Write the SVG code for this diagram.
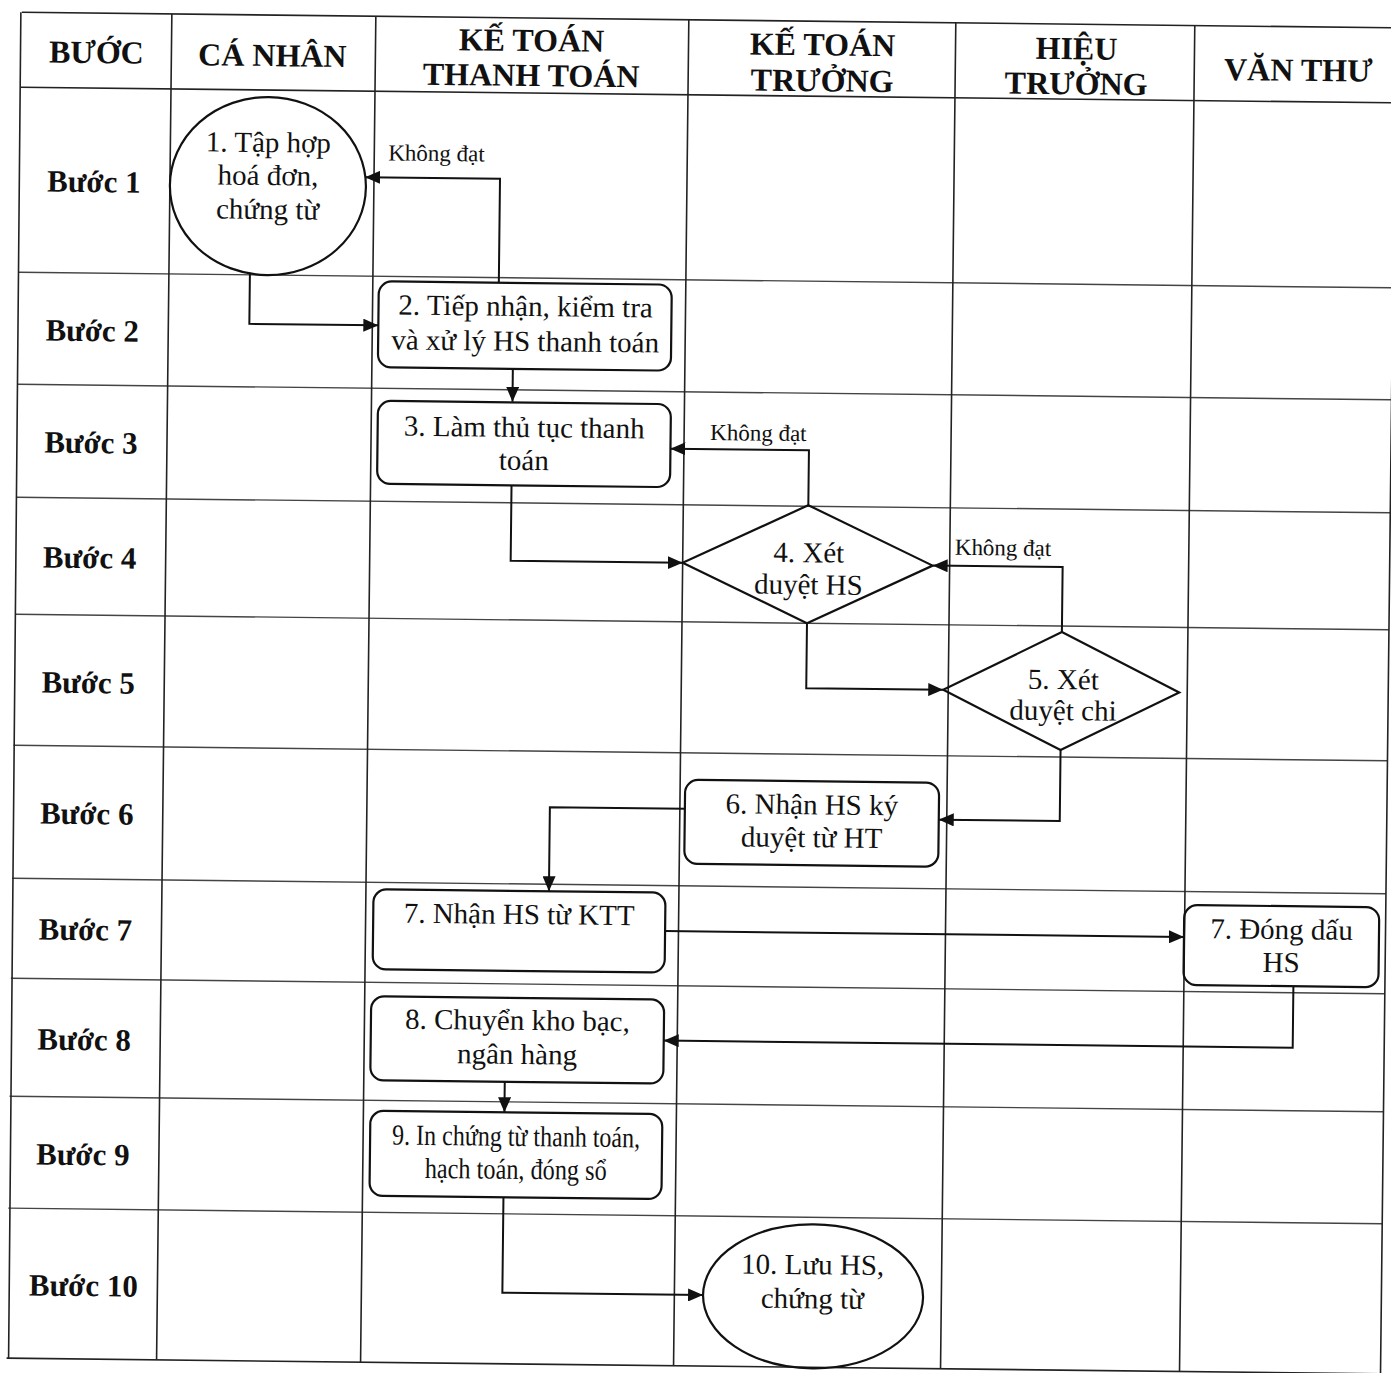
<svg xmlns="http://www.w3.org/2000/svg" width="1391" height="1373" viewBox="0 0 1391 1373">
<style>
.grid{stroke:#222;stroke-width:1.6;fill:none}
.hl{stroke:#444;stroke-width:1.4;fill:none}
.shape{fill:none;stroke:#111;stroke-width:2.2}
.conn{fill:none;stroke:#111;stroke-width:2}
.hd{font-family:"Liberation Serif","DejaVu Serif",serif;font-weight:bold;font-size:32px;fill:#111;text-anchor:middle}
.rl{font-family:"Liberation Serif","DejaVu Serif",serif;font-weight:bold;font-size:31px;fill:#111;text-anchor:middle}
.nt{font-family:"Liberation Serif","DejaVu Serif",serif;font-size:29px;fill:#111;text-anchor:middle}
.lb{font-family:"Liberation Serif","DejaVu Serif",serif;font-size:23px;fill:#111}
</style>
<defs>
<marker id="arr" markerUnits="userSpaceOnUse" markerWidth="15" markerHeight="13" refX="15" refY="6.5" orient="auto">
<path d="M0,0 L15,6.5 L0,13 z" fill="#111"/>
</marker>
</defs>
<rect x="0" y="0" width="1391" height="1373" fill="#fff"/>
<g transform="rotate(0.65)">
<g id="table">
<path class="grid" d="M22,12 H1396 M22,87 H1396 M22,1358 H1396"/>
<path class="hl" d="M22,272 H1396 M22,384 H1396 M22,497 H1396 M22,614 H1396 M22,745 H1396 M22,878 H1396 M22,978 H1396 M22,1096 H1396 M22,1208 H1396"/>
<path class="grid" d="M21,12 L24,1358 M172,12 V1358 M376,12 V1358 M689,12 V1358 M956,12 V1358 M1195,12 V1358 M1396,12 V1358"/>
</g>
<g id="headers">
<text class="hd" x="97" y="62">BƯỚC</text>
<text class="hd" x="273" y="63">CÁ NHÂN</text>
<text class="hd" x="532" y="45">KẾ TOÁN</text>
<text class="hd" x="532" y="80">THANH TOÁN</text>
<text class="hd" x="823" y="46">KẾ TOÁN</text>
<text class="hd" x="823" y="82">TRƯỞNG</text>
<text class="hd" x="1077" y="47">HIỆU</text>
<text class="hd" x="1077" y="82">TRƯỞNG</text>
<text class="hd" x="1299" y="66">VĂN THƯ</text>
</g>
<g id="rows">
<text class="rl" x="96" y="191">Bước 1</text>
<text class="rl" x="96" y="340">Bước 2</text>
<text class="rl" x="96" y="452">Bước 3</text>
<text class="rl" x="96" y="567">Bước 4</text>
<text class="rl" x="96" y="692">Bước 5</text>
<text class="rl" x="96" y="823">Bước 6</text>
<text class="rl" x="96" y="939">Bước 7</text>
<text class="rl" x="96" y="1049">Bước 8</text>
<text class="rl" x="96" y="1164">Bước 9</text>
<text class="rl" x="98" y="1295">Bước 10</text>
</g>
<g id="connectors">
<path class="conn" marker-end="url(#arr)" d="M502,277 V173 H367"/>
<path class="conn" marker-end="url(#arr)" d="M253,270 V321 H382"/>
<path class="conn" marker-end="url(#arr)" d="M517,363 V396"/>
<path class="conn" marker-end="url(#arr)" d="M814,496 V441 H675.5"/>
<path class="conn" marker-end="url(#arr)" d="M517,480 V555 H689"/>
<path class="conn" marker-end="url(#arr)" d="M1069,620 V555 H939"/>
<path class="conn" marker-end="url(#arr)" d="M814,614 V679 H951"/>
<path class="conn" marker-end="url(#arr)" d="M1069,738 V809 H948"/>
<path class="conn" marker-end="url(#arr)" d="M694,801 H559 V885"/>
<path class="conn" marker-end="url(#arr)" d="M675.6,923.5 H1194.5"/>
<path class="conn" marker-end="url(#arr)" d="M1304.5,971.5 V1033 H675.5"/>
<path class="conn" marker-end="url(#arr)" d="M517,1076 V1106.5"/>
<path class="conn" marker-end="url(#arr)" d="M517,1191.5 V1287 H717.7"/>
<text class="lb" x="390" y="156">Không đạt</text>
<text class="lb" x="715" y="432">Không đạt</text>
<text class="lb" x="961" y="544">Không đạt</text>
</g>
<g id="n1">
<ellipse class="shape" cx="270" cy="183" rx="98" ry="89"/>
<text class="nt" x="270" y="149">1. Tập hợp</text>
<text class="nt" x="270" y="182">hoá đơn,</text>
<text class="nt" x="270" y="216">chứng từ</text>
</g>
<g id="n2">
<rect class="shape" x="382" y="277" width="293" height="86" rx="13"/>
<text class="nt" x="529" y="310">2. Tiếp nhận, kiểm tra</text>
<text class="nt" x="529" y="345">và xử lý HS thanh toán</text>
</g>
<g id="n3">
<rect class="shape" x="382.5" y="396.5" width="293" height="83" rx="13"/>
<text class="nt" x="529" y="431">3. Làm thủ tục thanh</text>
<text class="nt" x="529" y="464">toán</text>
</g>
<g id="n4">
<polygon class="shape" points="814,496 939,555 814,614 689,555"/>
<text class="nt" x="815" y="553">4. Xét</text>
<text class="nt" x="815" y="585">duyệt HS</text>
</g>
<g id="n5">
<polygon class="shape" points="1069,620 1187,679 1069,738 951,679"/>
<text class="nt" x="1071" y="677">5. Xét</text>
<text class="nt" x="1071" y="708">duyệt chi</text>
</g>
<g id="n6">
<rect class="shape" x="694" y="772" width="254" height="84" rx="13"/>
<text class="nt" x="821" y="805">6. Nhận HS ký</text>
<text class="nt" x="821" y="838">duyệt từ HT</text>
</g>
<g id="n7">
<rect class="shape" x="383.6" y="885" width="292" height="80" rx="13"/>
<text class="nt" x="529.5" y="918">7. Nhận HS từ KTT</text>
</g>
<g id="n7b">
<rect class="shape" x="1194.5" y="891.5" width="195" height="80" rx="13"/>
<text class="nt" x="1292" y="924.5">7. Đóng dấu</text>
<text class="nt" x="1292" y="957.5">HS</text>
</g>
<g id="n8">
<rect class="shape" x="382.5" y="992" width="293" height="84" rx="13"/>
<text class="nt" x="529" y="1024">8. Chuyển kho bạc,</text>
<text class="nt" x="529" y="1058">ngân hàng</text>
</g>
<g id="n9">
<rect class="shape" x="383" y="1106.5" width="292" height="85" rx="13"/>
<text class="nt" x="529" y="1140" textLength="248" lengthAdjust="spacingAndGlyphs">9. In chứng từ thanh toán,</text>
<text class="nt" x="529" y="1173" textLength="182" lengthAdjust="spacingAndGlyphs">hạch toán, đóng sổ</text>
</g>
<g id="n10">
<ellipse class="shape" cx="827.7" cy="1287" rx="110" ry="72"/>
<text class="nt" x="827" y="1265">10. Lưu HS,</text>
<text class="nt" x="827" y="1299">chứng từ</text>
</g>
</g>
</svg>
